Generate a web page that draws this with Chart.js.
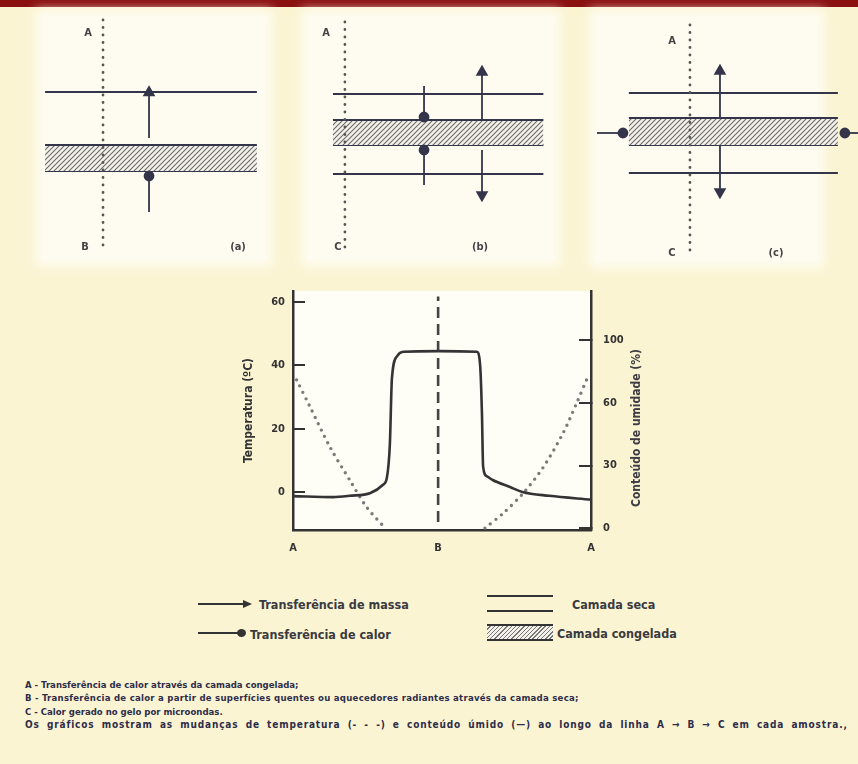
<!DOCTYPE html>
<html lang="pt">
<head>
<meta charset="UTF-8" />
<title>Transferência de calor e massa na liofilização</title>
<script src="https://cdn.jsdelivr.net/npm/chart.js"></script>
<style>
  body {
    margin: 0;
    width: 858px;
    height: 764px;
    position: relative;
    overflow: hidden;
    background: #fbf4d3;
    font-family: "DejaVu Sans Condensed", "Liberation Sans Narrow", sans-serif;
    font-weight: bold;
    color: #3a3a40;
  }
  .topbar { position: absolute; left: 0; top: 0; width: 858px; height: 7px; background: #8b1111; }
  .panel { position: absolute; background: #fefcf1; box-shadow: 0 0 10px 6px #fefcf1; }
  .box { position: absolute; }
  .lbl { position: absolute; font-size: 11px; transform: translate(-50%, -50%); color: #444; }
  .ytitle {
    position: absolute; font-size: 12px; white-space: nowrap;
    transform: translate(-50%, -50%) rotate(-90deg);
  }
  .legtxt { position: absolute; font-size: 12.5px; transform: translateY(-50%); white-space: nowrap; }
  .ln { position: absolute; background: #333; }
  .tri {
    position: absolute; width: 0; height: 0;
    border-top: 4px solid transparent; border-bottom: 4px solid transparent;
    border-left: 9px solid #333;
  }
  .blob { position: absolute; width: 9px; height: 8px; border-radius: 50%; background: #333; }
  .hatch {
    position: absolute; border-top: 2px solid #333; border-bottom: 2px solid #333;
    background: repeating-linear-gradient(135deg, #f3f1ea 0 2px, #777 2px 3px);
  }
  .notes { position: absolute; left: 25px; top: 678px; font-size: 9.5px; line-height: 13.3px; color: #2d2d4a; }
  .notes div { white-space: nowrap; }
</style>
</head>
<body>
  <div class="topbar"></div>

  <div class="panel" style="left:42px; top:16px; width:224px; height:244px;"></div>
  <div class="panel" style="left:308px; top:16px; width:246px; height:244px;"></div>
  <div class="panel" style="left:596px; top:16px; width:222px; height:246px;"></div>

  <div class="box" style="left:40px; top:15px; width:230px; height:250px;"><canvas id="panelA"></canvas></div>
  <div class="box" style="left:318px; top:15px; width:230px; height:250px;"><canvas id="panelB"></canvas></div>
  <div class="box" style="left:590px; top:15px; width:268px; height:250px;"><canvas id="panelC"></canvas></div>

  <span class="lbl" style="left:88px; top:32px;">A</span>
  <span class="lbl" style="left:85px; top:246px;">B</span>
  <span class="lbl" style="left:238px; top:246px;">(a)</span>
  <span class="lbl" style="left:326px; top:32px;">A</span>
  <span class="lbl" style="left:338px; top:246px;">C</span>
  <span class="lbl" style="left:480px; top:246px;">(b)</span>
  <span class="lbl" style="left:672px; top:40px;">A</span>
  <span class="lbl" style="left:672px; top:252px;">C</span>
  <span class="lbl" style="left:776px; top:252px;">(c)</span>

  <div class="box" style="left:238px; top:284px; width:393px; height:276px;"><canvas id="profile"></canvas></div>
  <div class="ytitle" style="left:636px; top:428px;">Conteúdo de umidade (%)</div>

  <!-- legenda -->
  <div class="ln" style="left:198px; top:603px; width:46px; height:1.5px;"></div>
  <div class="tri" style="left:243px; top:600px;"></div>
  <span class="legtxt" style="left:259px; top:604px;">Transferência de massa</span>
  <div class="ln" style="left:198px; top:632px; width:42px; height:2px;"></div>
  <div class="blob" style="left:237px; top:629px;"></div>
  <span class="legtxt" style="left:250px; top:634px;">Transferência de calor</span>
  <div class="ln" style="left:487px; top:595px; width:66px; height:2px;"></div>
  <div class="ln" style="left:487px; top:610px; width:66px; height:2px;"></div>
  <span class="legtxt" style="left:572px; top:604px;">Camada seca</span>
  <div class="hatch" style="left:487px; top:624px; width:66px; height:13px;"></div>
  <span class="legtxt" style="left:557px; top:633px;">Camada congelada</span>

  <div class="notes">
    <div>A - Transferência de calor através da camada congelada;</div>
    <div style="letter-spacing:0.26px;">B - Transferência de calor a partir de superfícies quentes ou aquecedores radiantes através da camada seca;</div>
    <div>C - Calor gerado no gelo por microondas.</div>
    <div style="font-size:10px; letter-spacing:0.85px; word-spacing:3.2px;">Os gráficos mostram as mudanças de temperatura (- - -) e conteúdo úmido (—) ao longo da linha A → B → C em cada amostra.,</div>
  </div>

<script>
  // ---- gráfico central (perfil ao longo de A - B - A) ----
  const xTickValues = [0, 48.7, 100];
  const xTickLabels = ["A", "B", "A"];
  const tempTicks = [0, 20, 40, 60];
  const moistTicks = [0, 30, 60, 100];

  const tempX = [0, 13.4, 19, 26, 30.2, 31.5, 32.5, 33.2, 35, 37, 49, 61.7, 62.8, 63.4, 63.8, 65, 67, 73, 77, 86, 100];
  const tempValues = [-1.3, -1.6, -1.2, -0.3, 2.3, 4.5, 15, 36, 43, 44.3, 44.5, 44.3, 40, 25, 8, 5, 3.8, 1.5, 0, -1.2, -2.4];

  const moistX = [1.2, 5.7, 12.4, 19.1, 24.7, 30.9, 48, 64.4, 70.5, 77.2, 83.9, 90.6, 95.2, 99];
  const moistValues = [74.8, 58.2, 38.9, 22.9, 10.1, 0, null, 0, 7.1, 16.7, 29, 45.5, 60, 77];

  const dividerTemp = [-9.5, 61.8];

  // ---- esquemas (a), (b), (c): unidades 0-100 dentro de cada quadro ----
  const panelADivider = [27.4, 2, 94];
  const panelADry = [30.8];
  const panelABand = [52, 62.4];
  const panelASpan = [2.2, 94.3];
  const panelAMass = [[47.4, 49.2, 31]];
  const panelAHeat = [[47.4, 78.8, 64.4]];

  const panelBDivider = [11.7, 2.8, 94];
  const panelBDry = [31.6, 63.6];
  const panelBBand = [42, 52];
  const panelBSpan = [6.5, 98];
  const panelBMass = [[71.3, 42, 22.8], [71.3, 54, 72]];
  const panelBHeat = [[46.1, 28.4, 40.8], [46.1, 68, 54]];

  const panelCDivider = [37.3, 4, 96];
  const panelCDry = [31.2, 63.2];
  const panelCBand = [41.2, 52];
  const panelCSpan = [14.5, 92.5];
  const panelCMass = [[48.5, 41.2, 22.4], [48.5, 52, 70.8]];
  const panelCHeatSide = [[47.2, 2.6, 12.3], [47.2, 100, 95.1]];

  const ink = "#34344a";
  const font = { family: '"DejaVu Sans Condensed", "Liberation Sans Narrow", sans-serif', weight: "bold", size: 11 };

  function makeHatch() {
    const c = document.createElement("canvas");
    c.width = 5; c.height = 5;
    const g = c.getContext("2d");
    g.fillStyle = "#f3f1ea";
    g.fillRect(0, 0, 5, 5);
    g.strokeStyle = "#6a6a6a";
    g.lineWidth = 1.1;
    g.beginPath();
    g.moveTo(-1, 6); g.lineTo(6, -1);
    g.moveTo(-3, 3); g.lineTo(3, -3);
    g.moveTo(2, 8); g.lineTo(8, 2);
    g.stroke();
    return g.createPattern(c, "repeat");
  }
  const hatch = makeHatch();

  function seg(a, b, extra) {
    return Object.assign({
      data: [a, b], showLine: true, borderColor: ink, backgroundColor: ink,
      borderWidth: 2, pointRadius: 0
    }, extra || {});
  }

  // dataset 0 is drawn on top, so arrows first, then the divider, then layers
  function panelDatasets(divider, dry, band, span, mass, heat, heatSide) {
    const sets = [];
    mass.forEach(([x, y0, y1]) => {
      sets.push(seg({ x, y: y0 }, { x, y: y1 }, {
        borderWidth: 1.8, pointRadius: [0, 5.5], pointStyle: "triangle",
        pointRotation: y1 < y0 ? 0 : 180
      }));
    });
    heat.forEach(([x, y0, y1]) => {
      sets.push(seg({ x, y: y0 }, { x, y: y1 }, { borderWidth: 1.8, pointRadius: [0, 4.5] }));
    });
    heatSide.forEach(([y, x0, x1]) => {
      sets.push(seg({ x: x0, y }, { x: x1, y }, { borderWidth: 1.8, pointRadius: [0, 4.5] }));
    });
    sets.push(seg({ x: divider[0], y: divider[1] }, { x: divider[0], y: divider[2] }, {
      borderColor: "#555", borderWidth: 2.8, borderDash: [0, 7.5], borderCapStyle: "round"
    }));
    dry.forEach((y) => sets.push(seg({ x: span[0], y }, { x: span[1], y })));
    sets.push(seg({ x: span[0], y: band[0] }, { x: span[1], y: band[0] }, { fill: "+1", backgroundColor: hatch }));
    sets.push(seg({ x: span[0], y: band[1] }, { x: span[1], y: band[1] }));
    return sets;
  }

  function panelChart(id, datasets) {
    return new Chart(document.getElementById(id), {
      type: "scatter",
      data: { datasets },
      options: {
        responsive: true,
        maintainAspectRatio: false,
        animation: false,
        layout: { padding: 0, autoPadding: false },
        plugins: { legend: { display: false }, tooltip: { enabled: false } },
        scales: {
          x: { display: false, min: 0, max: 100 },
          y: { display: false, min: 0, max: 100, reverse: true }
        }
      }
    });
  }

  panelChart("panelA", panelDatasets(panelADivider, panelADry, panelABand, panelASpan, panelAMass, panelAHeat, []));
  panelChart("panelB", panelDatasets(panelBDivider, panelBDry, panelBBand, panelBSpan, panelBMass, panelBHeat, []));
  panelChart("panelC", panelDatasets(panelCDivider, panelCDry, panelCBand, panelCSpan, panelCMass, [], panelCHeatSide));

  // eixo da direita: marcas igualmente espaçadas (0, 30, 60, 100)
  function toAxis(v) {
    for (let i = 1; i < moistTicks.length; i++) {
      if (v <= moistTicks[i]) {
        return i - 1 + (v - moistTicks[i - 1]) / (moistTicks[i] - moistTicks[i - 1]);
      }
    }
    return moistTicks.length - 1;
  }

  const plotBg = {
    id: "plotBg",
    beforeDraw(chart) {
      const { ctx, chartArea: a } = chart;
      ctx.save();
      ctx.fillStyle = "#fefdf6";
      ctx.fillRect(a.left, a.top, a.right - a.left, a.bottom - a.top);
      ctx.restore();
    }
  };

  function fixWidth(w) {
    return (s) => { s.width = w; s.paddingTop = 0; s.paddingBottom = 0; };
  }

  new Chart(document.getElementById("profile"), {
    type: "scatter",
    data: {
      datasets: [
        {
          label: "Temperatura",
          data: tempX.map((x, i) => ({ x, y: tempValues[i] })),
          yAxisID: "y",
          showLine: true,
          borderColor: "#343434",
          borderWidth: 2.6,
          pointRadius: 0,
          cubicInterpolationMode: "monotone"
        },
        {
          label: "Conteúdo de umidade",
          data: moistX.map((x, i) => ({ x, y: moistValues[i] === null ? null : toAxis(moistValues[i]) })),
          yAxisID: "y2",
          showLine: true,
          borderColor: "#7a7a7a",
          borderWidth: 3.4,
          borderDash: [0, 7],
          borderCapStyle: "round",
          pointRadius: 0,
          tension: 0.3
        },
        {
          label: "B",
          data: [{ x: xTickValues[1], y: dividerTemp[0] }, { x: xTickValues[1], y: dividerTemp[1] }],
          yAxisID: "y",
          showLine: true,
          borderColor: "#444",
          borderWidth: 2.6,
          borderDash: [11, 6],
          pointRadius: 0
        }
      ]
    },
    options: {
      responsive: true,
      maintainAspectRatio: false,
      animation: false,
      layout: { padding: { top: 7 }, autoPadding: false },
      plugins: { legend: { display: false }, tooltip: { enabled: false } },
      scales: {
        x: {
          type: "linear", min: 0, max: 100,
          afterBuildTicks: (s) => { s.ticks = xTickValues.map((v) => ({ value: v })); },
          afterFit: (s) => { s.height = 30; s.paddingLeft = 0; s.paddingRight = 0; },
          grid: { display: false, drawTicks: false },
          border: { display: true, color: "#333", width: 2.5 },
          ticks: { padding: 12, color: "#333", font, autoSkip: false, maxRotation: 0,
                   callback: (v, i) => xTickLabels[i] }
        },
        y: {
          position: "left", min: -12, max: 63.5,
          afterBuildTicks: (s) => { s.ticks = tempTicks.map((v) => ({ value: v })); },
          afterFit: fixWidth(55),
          grid: { drawOnChartArea: false, color: "#333", lineWidth: 2, tickLength: -12 },
          border: { color: "#333", width: 2.5 },
          ticks: { padding: 20, color: "#333", font },
          title: { display: true, text: "Temperatura (ºC)", color: "#333",
                   font: Object.assign({}, font, { size: 12 }), padding: { top: 4, bottom: 0 } }
        },
        y2: {
          position: "right", min: -0.03, max: 3.79,
          afterBuildTicks: (s) => { s.ticks = moistTicks.map((v, i) => ({ value: i })); },
          afterFit: fixWidth(40),
          grid: { drawOnChartArea: false, color: "#333", lineWidth: 2, tickLength: -12 },
          border: { color: "#333", width: 2.5 },
          ticks: { padding: 24, color: "#333", font, callback: (v, i) => String(moistTicks[i]) }
        }
      }
    },
    plugins: [plotBg]
  });
</script>
</body>
</html>
